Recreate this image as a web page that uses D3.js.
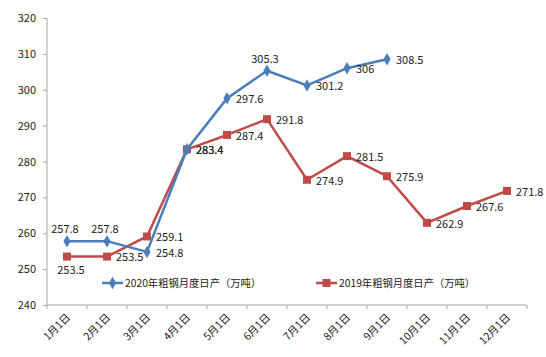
<!DOCTYPE html>
<html><head><meta charset="utf-8">
<script src="https://cdn.jsdelivr.net/npm/d3@7"></script>
<style>body{margin:0;background:#fff}svg text{font-family:"Noto Sans CJK SC","Noto Sans",sans-serif;fill:#222}</style>
</head><body><svg id="c" width="546" height="357"></svg>
<script>
const categories=["1月1日","2月1日","3月1日","4月1日","5月1日","6月1日","7月1日","8月1日","9月1日","10月1日","11月1日","12月1日"];
const s2020=[257.8,257.8,254.8,283.4,297.6,305.3,301.2,306,308.5];
const s2019=[253.5,253.5,259.1,283.4,287.4,291.8,274.9,281.5,275.9,262.9,267.6,271.8];
const pos2020=["top","top","right","right","right","top","right","right","right"];
const pos2019=["bottom","right","right","right","right","right","right","right","right","right","right","right"];
const yTicks=[240,250,260,270,280,290,300,310,320];
const names=["2020年粗钢月度日产（万吨）","2019年粗钢月度日产（万吨）"];
const colors=["#4A7EBB","#BE4B48"];

const svg=d3.select("#c");
const x=d3.scaleBand().domain(categories).range([47,527]);
const y=d3.scaleLinear().domain([240,320]).range([305,18]);
const axisColor="#a6a6a6";

const ya=svg.append("g").attr("transform","translate(47,0)").call(d3.axisLeft(y).tickValues(yTicks).tickSize(4).tickPadding(7));
ya.selectAll("path,line").attr("stroke",axisColor);
ya.select(".domain").attr("d","M0,18V305");
ya.selectAll("text").style("font-size","11px").style("font-family",null);

const xa=svg.append("g").attr("transform","translate(0,305)").call(d3.axisBottom(x).tickSize(0).tickSizeOuter(0));
xa.selectAll("path").attr("stroke",axisColor);
xa.select(".domain").attr("d","M47,0H527");
xa.selectAll(".tick line").remove();
const bounds=d3.range(13).map(i=>47+i*x.bandwidth());
xa.selectAll(".bt").data(bounds).join("line").attr("x1",d=>d).attr("x2",d=>d).attr("y1",0).attr("y2",4).attr("stroke",axisColor);
xa.selectAll(".tick text").attr("text-anchor","end").attr("y",0).attr("dy",0)
  .attr("transform","translate(4,13) rotate(-45)").style("font-size","10.5px").style("font-family",null);

const cx=i=>x(categories[i])+x.bandwidth()/2;
const line=d3.line().x((d,i)=>cx(i)).y(d=>y(d));

function drawSeries(data,color,marker,pos){
  svg.append("path").datum(data).attr("d",line).attr("fill","none").attr("stroke",color).attr("stroke-width",2.5).attr("stroke-linejoin","round");
  const sym=marker==="diamond"?d3.symbol().type(d3.symbolDiamond).size(45):d3.symbol().type(d3.symbolSquare).size(64);
  svg.selectAll(null).data(data).join("path").attr("d",sym).attr("transform",(d,i)=>`translate(${cx(i)},${y(d)})`).attr("fill",color);
  svg.selectAll(null).data(data).join("text").text(d=>d)
    .style("font-size","11px")
    .attr("x",(d,i)=>pos[i]==="right"?cx(i)+9:cx(i)+(pos[i]==="top"?-2:4))
    .attr("y",(d,i)=>pos[i]==="top"?y(d)-12:pos[i]==="bottom"?y(d)+14:y(d)+1)
    .attr("dy","0.35em")
    .attr("text-anchor",(d,i)=>pos[i]==="right"?"start":"middle");
}
drawSeries(s2019,colors[1],"square",pos2019);
drawSeries(s2020,colors[0],"diamond",pos2020);

const leg=[{x:102,c:colors[0],m:"diamond",t:names[0]},{x:316,c:colors[1],m:"square",t:names[1]}];
leg.forEach(l=>{
  const g=svg.append("g").attr("transform",`translate(${l.x},283)`);
  g.append("line").attr("x1",0).attr("x2",21).attr("stroke",l.c).attr("stroke-width",2.5);
  g.append("path").attr("transform","translate(10.5,0)").attr("fill",l.c)
    .attr("d",(l.m==="diamond"?d3.symbol().type(d3.symbolDiamond).size(45):d3.symbol().type(d3.symbolSquare).size(64))());
  g.append("text").attr("x",23).attr("dy","0.35em").style("font-size","10.3px").text(l.t);
});
</script></body></html>
